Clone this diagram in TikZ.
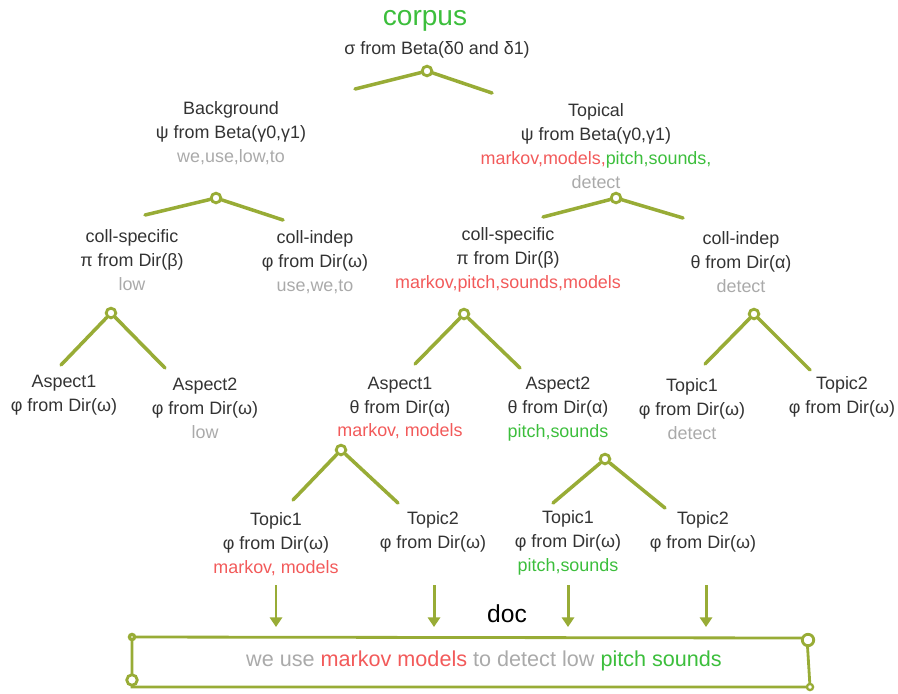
\documentclass[tikz,border=0pt]{standalone}
\usepackage{fontspec}
\setmainfont{Liberation Sans}
\usepackage{tikz}
\usetikzlibrary{arrows.meta, positioning}

\definecolor{branchgreen}{HTML}{98AC36}
\definecolor{txtdark}{HTML}{333333}
\definecolor{wordgray}{HTML}{AAAAAA}
\definecolor{wordred}{HTML}{F25A5A}
\definecolor{wordgreen}{HTML}{3CBE3C}

\begin{document}
\begin{tikzpicture}[
  x=0.02cm, y=-0.02cm,
  >={Triangle[length=5.5pt, width=7pt]},
  every node/.style={font=\fontsize{10.2}{13.6}\selectfont, text=txtdark, align=center, inner sep=0pt},
  branch/.style={draw=branchgreen, line width=2pt, line cap=round},
  junc/.style={circle, draw=branchgreen, fill=white, line width=1.6pt, minimum size=5.5pt, inner sep=0pt},
  feed/.style={->, draw=branchgreen, line width=1.7pt},
]
  \useasboundingbox (0,0) rectangle (898,693);

  % root
  \node[font=\fontsize{16}{18}\selectfont, text=wordgreen] (corpus) at (425,21) {corpus};
  \node (sigma) at (437,50) {σ from Beta(δ0 and δ1)};

  % level 1
  \node (bg) at (231,133) {Background\\ψ from Beta(γ0,γ1)\\\textcolor{wordgray}{we,use,low,to}};
  \node (topical) at (596,146) {Topical\\ψ from Beta(γ0,γ1)\\\textcolor{wordred}{markov,models,}\textcolor{wordgreen}{pitch,sounds,}\\\textcolor{wordgray}{detect}};

  % level 2
  \node (cs left) at (132,260) {coll-specific\\π from Dir(β)\\\textcolor{wordgray}{low}};
  \node (ci left) at (315,262) {coll-indep\\φ from Dir(ω)\\\textcolor{wordgray}{use,we,to}};
  \node (cs right) at (508,260) {coll-specific\\π from Dir(β)\\\textcolor{wordred}{markov,pitch,sounds,models}};
  \node (ci right) at (741,262) {coll-indep\\θ from Dir(α)\\\textcolor{wordgray}{detect}};

  % level 3
  \node (asp a1) at (64,395) {Aspect1\\φ from Dir(ω)};
  \node (asp a2) at (205,408) {Aspect2\\φ from Dir(ω)\\\textcolor{wordgray}{low}};
  \node (asp b1) at (400,408) {Aspect1\\θ from Dir(α)\\\textcolor{wordred}{markov, models}};
  \node (asp b2) at (558,409) {Aspect2\\θ from Dir(α)\\\textcolor{wordgreen}{pitch,sounds}};
  \node (top c1) at (692,409) {Topic1\\φ from Dir(ω)\\\textcolor{wordgray}{detect}};
  \node (top c2) at (842,397) {Topic2\\φ from Dir(ω)};

  % level 4
  \node (top b11) at (276,544) {Topic1\\φ from Dir(ω)\\\textcolor{wordred}{markov, models}};
  \node (top b12) at (433,532) {Topic2\\φ from Dir(ω)};
  \node (top b21) at (568,543) {Topic1\\φ from Dir(ω)\\\textcolor{wordgreen}{pitch,sounds}};
  \node (top b22) at (703,532) {Topic2\\φ from Dir(ω)};

  % junctions
  \foreach \j/\x/\y/\lx/\ly/\rx/\ry in {root/427/71/355/89/492/93, bg/216/198/145/215/283/220,
      topical/616/198/543/217/683/218, csl/111/313/61/365/165/368, csr/464/314/415/364/520/368,
      cir/754/314/705/364/810/370, aspb1/341/450/293/500/398/503, aspb2/605/459/553/503/665/508} {
    \node[junc] (j \j) at (\x,\y) {};
    \coordinate (j \j L) at (\lx,\ly);
    \coordinate (j \j R) at (\rx,\ry);
    \draw[branch] (j \j L) -- (j \j);
    \draw[branch] (j \j) -- (j \j R);
  }

  % document
  \node[font=\fontsize{14}{16}\selectfont, text=black] (doc) at (507,614) {doc};
  \coordinate (box tl) at (132,637);
  \coordinate (box tr) at (807,638);
  \coordinate (box br) at (810,687);
  \coordinate (box bl) at (132,687);
  \draw[branch, line width=1.6pt, line cap=butt] (box tl) -- (box tr) -- (box br) -- (box bl) -- cycle;
  \node[junc, minimum size=3pt, line width=1.8pt] (box c1) at (box tl) {};
  \node[junc, minimum size=6pt] (box c2) at (132,680) {};
  \node[junc, minimum size=6.5pt] (box c3) at (808,640) {};
  \node[junc, minimum size=3.5pt, line width=1.3pt] (box c4) at (box br) {};
  \node[font=\fontsize{12.3}{14}\selectfont, text=wordgray] (sentence) at (484,661)
    {we use \textcolor{wordred}{markov models} to detect low \textcolor{wordgreen}{pitch sounds}};

  % feeds into doc
  \foreach \n/\x in {1/276, 2/434, 3/568, 4/706} {
    \coordinate (feed \n) at (\x,585);
    \coordinate (feed end \n) at (\x,627);
    \draw[feed] (feed \n) -- (feed end \n);
  }
\end{tikzpicture}
\end{document}
